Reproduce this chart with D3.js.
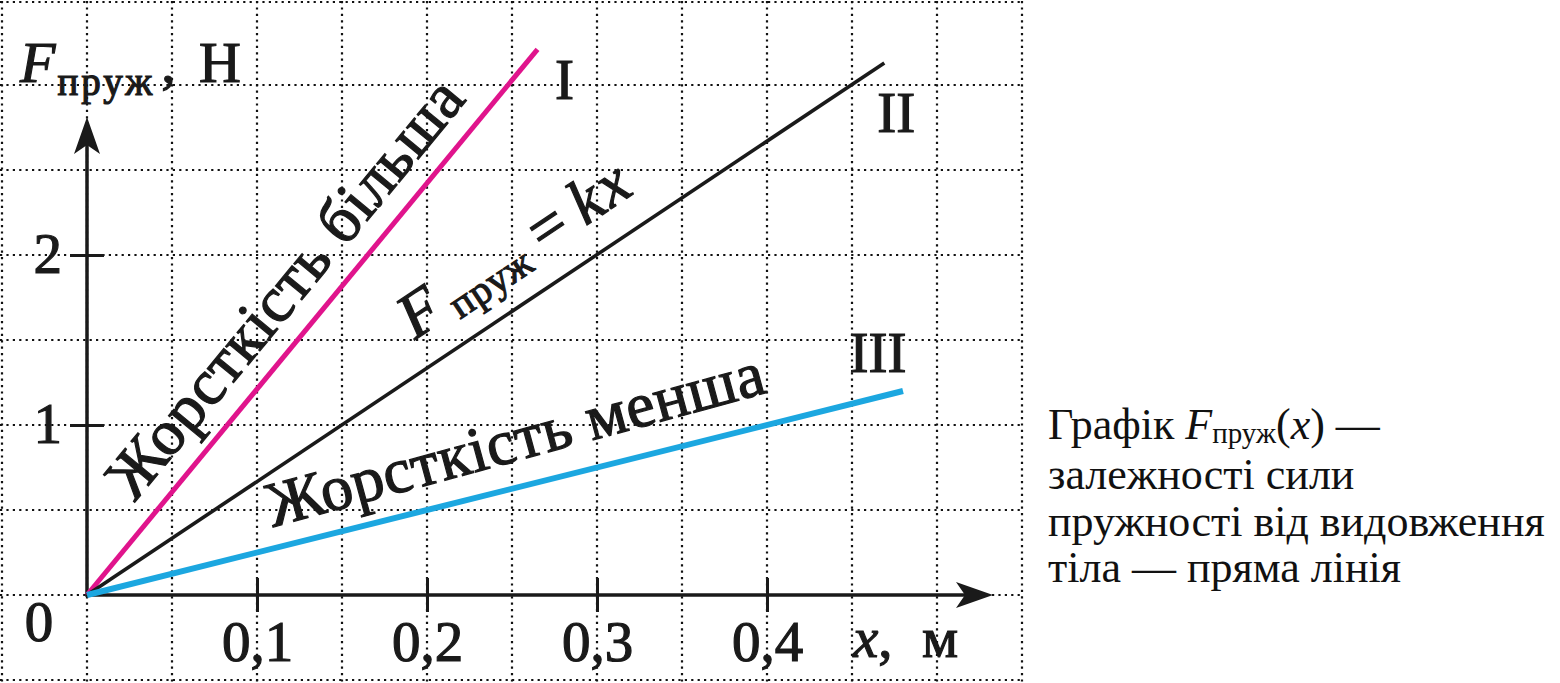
<!DOCTYPE html>
<html>
<head>
<meta charset="utf-8">
<script src="https://cdn.jsdelivr.net/npm/d3@7"></script>
<style>
  body { margin: 0; background: #fff; }
  svg { display: block; }
  .ink { fill: #1a1a1a; stroke: #1a1a1a; stroke-width: 1.2px; }
</style>
</head>
<body>
<div id="chart"></div>
<script>
// ticks on the axes
const xTicks = [0.1, 0.2, 0.3, 0.4];
const xTickLabels = ["0,1", "0,2", "0,3", "0,4"];
const yTicks = [1, 2];
const yTickLabels = ["1", "2"];

// three springs: straight lines from the origin to their end point
const springNames = ["I", "II", "III"];
const springX = [0.265, 0.469, 0.48];   // m
const springF = [3.21, 3.13, 1.2];      // N
const springColors = ["#e0148c", "#1a1a1a", "#1ca7e0"];

const captionLines = ["залежності сили", "пружності від видовження", "тіла — пряма лінія"];

const width = 1560, height = 683;
const serif = "'Liberation Serif', 'Times New Roman', serif";

const svg = d3.select("#chart").append("svg")
    .attr("width", width)
    .attr("height", height);

// one grid cell = 0.05 m by 0.5 N
const x = d3.scaleLinear().domain([-0.05, 0.55]).range([2, 1022]);
const y = d3.scaleLinear().domain([-0.5, 3.5]).range([680, 0]);

// dotted grid
const grid = svg.append("g")
    .attr("stroke", "#111")
    .attr("stroke-width", 2.2)
    .attr("stroke-dasharray", "2.2,4.2");

grid.selectAll(".gx")
    .data(d3.range(-1, 12).map(i => i * 0.05))
    .enter().append("line")
    .attr("x1", d => x(d)).attr("x2", d => x(d))
    .attr("y1", 1).attr("y2", height);

grid.selectAll(".gy")
    .data(d3.range(-1, 8).map(i => i * 0.5))
    .enter().append("line")
    .attr("x1", 0).attr("x2", x(0.55) + 1)
    .attr("y1", d => Math.max(2, y(d))).attr("y2", d => Math.max(2, y(d)));

// axes
const axisColor = "#1a1a1a";

const xAxis = d3.axisBottom(x)
    .tickValues(xTicks)
    .tickFormat((d, i) => xTickLabels[i])
    .tickSize(34)
    .tickPadding(10);

svg.append("g")
    .attr("transform", "translate(0," + (y(0) - 17) + ")")
    .call(xAxis)
    .call(g => g.select(".domain").remove())
    .call(g => g.selectAll(".tick line").attr("stroke", axisColor).attr("stroke-width", 3))
    .call(g => g.selectAll(".tick text")
        .attr("class", "ink")
        .attr("dy", "0.68em")
        .style("font-family", serif)
        .style("font-size", "57px"));

const yAxis = d3.axisLeft(y)
    .tickValues(yTicks)
    .tickFormat((d, i) => yTickLabels[i])
    .tickSize(34)
    .tickPadding(8);

svg.append("g")
    .attr("transform", "translate(" + (x(0) + 17) + ",0)")
    .call(yAxis)
    .call(g => g.select(".domain").remove())
    .call(g => g.selectAll(".tick line").attr("stroke", axisColor).attr("stroke-width", 3))
    .call(g => g.selectAll(".tick text")
        .attr("class", "ink")
        .attr("dy", "0.3em")
        .style("font-family", serif)
        .style("font-size", "57px"));

// axis lines with arrow heads
const yTip = 117, xTip = 993;
svg.append("line")
    .attr("x1", x(0)).attr("y1", y(0) + 1.5)
    .attr("x2", x(0)).attr("y2", yTip + 20)
    .attr("stroke", axisColor).attr("stroke-width", 3.5);
svg.append("line")
    .attr("x1", x(0) - 1.5).attr("y1", y(0))
    .attr("x2", xTip - 20).attr("y2", y(0))
    .attr("stroke", axisColor).attr("stroke-width", 3.5);

svg.append("path")
    .attr("d", `M${x(0)},${yTip} L${x(0) + 13},${yTip + 37} L${x(0)},${yTip + 28} L${x(0) - 13},${yTip + 37} Z`)
    .attr("fill", axisColor);
svg.append("path")
    .attr("d", `M${xTip},${y(0)} L${xTip - 37},${y(0) - 13} L${xTip - 28},${y(0)} L${xTip - 37},${y(0) + 13} Z`)
    .attr("fill", axisColor);

// origin label
svg.append("text")
    .attr("class", "ink")
    .attr("x", 39).attr("y", 641)
    .attr("text-anchor", "middle")
    .style("font-family", serif).style("font-size", "57px")
    .text("0");

// axis titles
const yTitle = svg.append("text")
    .attr("class", "ink")
    .attr("x", 20).attr("y", 82)
    .style("font-family", serif).style("font-size", "58px");
yTitle.append("tspan").style("font-style", "italic").text("F");
yTitle.append("tspan").attr("dx", 2).attr("dy", 13)
    .style("font-size", "39px").style("letter-spacing", "3px").text("пруж");
yTitle.append("tspan").attr("dx", 6).attr("dy", -13).text(",");
yTitle.append("tspan").attr("x", 199).text("Н");

const xTitle = svg.append("text")
    .attr("class", "ink")
    .attr("x", 853).attr("y", 657)
    .style("font-family", serif).style("font-size", "57px");
xTitle.append("tspan").style("font-style", "italic").text("x");
xTitle.append("tspan").text(",");
xTitle.append("tspan").attr("x", 922).text("м");

// spring lines
const lineGen = d3.line().x(d => x(d[0])).y(d => y(d[1]));
const lineWidths = [5, 3.6, 6];

svg.selectAll(".spring")
    .data(springNames)
    .enter().append("path")
    .attr("class", "spring")
    .attr("d", (d, i) => lineGen([[0, 0], [springX[i], springF[i]]]))
    .attr("fill", "none")
    .attr("stroke", (d, i) => springColors[i])
    .attr("stroke-width", (d, i) => lineWidths[i])
    .attr("stroke-linecap", "butt");

// roman numerals next to the line ends
const nameOffsets = [[27, 50], [12, 69], [-25, -19]];
svg.selectAll(".name")
    .data(springNames)
    .enter().append("text")
    .attr("class", "name ink")
    .attr("x", (d, i) => x(springX[i]) + nameOffsets[i][0])
    .attr("y", (d, i) => y(springF[i]) + nameOffsets[i][1])
    .attr("text-anchor", "middle")
    .style("font-family", serif).style("font-size", "57px")
    .text(d => d);

// text running along a spring line
function along(i, t) {
    const x0 = x(0), y0 = y(0), x1 = x(springX[i]), y1 = y(springF[i]);
    const angle = Math.atan2(y1 - y0, x1 - x0) * 180 / Math.PI;
    return `translate(${x0 + t * (x1 - x0)},${y0 + t * (y1 - y0)}) rotate(${angle})`;
}

svg.append("g").attr("transform", along(0, 0.513))
    .append("text")
    .attr("class", "ink")
    .attr("y", -22)
    .attr("text-anchor", "middle")
    .style("font-family", serif).style("font-size", "64px")
    .style("letter-spacing", "0.5px")
    .text("Жорсткість більша");

svg.append("g").attr("transform", along(2, 0.54) + " rotate(-1.2)")
    .append("text")
    .attr("class", "ink")
    .attr("y", -26)
    .attr("text-anchor", "middle")
    .style("font-family", serif).style("font-size", "64px")
    .style("letter-spacing", "0.5px")
    .text("Жорсткість менша");

const formula = svg.append("g").attr("transform", along(1, 0.432))
    .append("text")
    .attr("class", "ink")
    .attr("y", -30)
    .style("font-family", serif).style("font-size", "64px");
formula.append("tspan").style("font-style", "italic").text("F");
formula.append("tspan").attr("dx", 10).attr("dy", 8)
    .style("font-size", "40px").style("letter-spacing", "1px").text("пруж");
formula.append("tspan").attr("dx", 14).attr("dy", -8).text("=");
formula.append("tspan").attr("dx", 14).style("font-style", "italic").style("letter-spacing", "3px").text("kx");

// caption on the right
const caption = svg.append("g")
    .attr("fill", "#111")
    .style("font-family", serif)
    .style("font-size", "44px");

const first = caption.append("text").attr("x", 1048).attr("y", 439);
first.append("tspan").text("Графік ");
first.append("tspan").style("font-style", "italic").text("F");
first.append("tspan").attr("dy", 4).style("font-size", "29px").text("пруж");
first.append("tspan").attr("dy", -4).text("(");
first.append("tspan").style("font-style", "italic").text("x");
first.append("tspan").text(") —");

caption.selectAll(".cap")
    .data(captionLines)
    .enter().append("text")
    .attr("class", "cap")
    .attr("x", 1048)
    .attr("y", (d, i) => 489 + i * 46.5)
    .text(d => d);
</script>
</body>
</html>
